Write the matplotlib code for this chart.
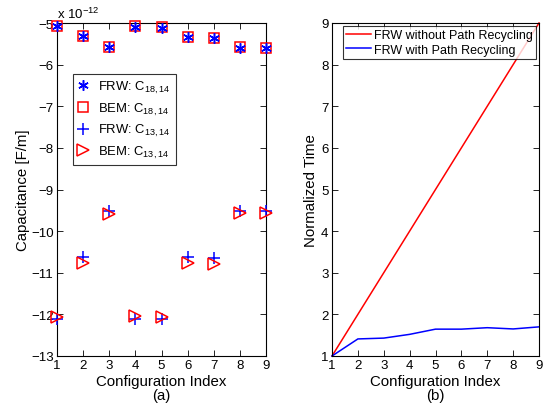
import matplotlib
matplotlib.use("Agg")
import matplotlib.pyplot as plt
import numpy as np

plt.rcParams['font.family'] = ['Liberation Sans', 'DejaVu Sans']
plt.rcParams['mathtext.default'] = 'regular'
plt.rcParams['font.size'] = 10

config = [1, 2, 3, 4, 5, 6, 7, 8, 9]
# capacitances in units of 1e-12 F/m
frw_c18 = [-5.07, -5.32, -5.58, -5.09, -5.11, -5.34, -5.37, -5.59, -5.61]
bem_c18 = [-5.07, -5.32, -5.57, -5.08, -5.10, -5.33, -5.36, -5.58, -5.60]
frw_c13 = [-12.11, -10.61, -9.52, -12.12, -12.12, -10.61, -10.64, -9.51, -9.51]
bem_c13 = [-12.06, -10.77, -9.58, -12.05, -12.06, -10.77, -10.78, -9.57, -9.57]

time_without = [1, 2, 3, 4, 5, 6, 7, 8, 9]
time_with = [1.0, 1.41, 1.43, 1.52, 1.645, 1.645, 1.68, 1.65, 1.70]

fig = plt.figure(figsize=(5.46, 4.10), dpi=100)
ax1 = fig.add_axes([57/546, 1-357/410, 209/546, 333/410])
ax2 = fig.add_axes([332/546, 1-357/410, 207/546, 333/410])

for ax in (ax1, ax2):
    ax.tick_params(direction='in', top=True, right=True, length=4, width=0.6, labelsize=9.5, pad=2.5)
    for s in ax.spines.values():
        s.set_linewidth(0.8)
    ax.set_xlim(1, 9)
    ax.set_xticks(config)

asterisk = (6, 2, 0)
ax1.plot(config, bem_c18, linestyle='none', marker='s', markersize=6.5, markerfacecolor='none',
         markeredgecolor='red', markeredgewidth=1.1, label='BEM: C$_{18,14}$', zorder=3, clip_on=False)
ax1.plot(config, frw_c18, linestyle='none', marker=asterisk, markersize=7.5, color='blue',
         markeredgewidth=1.1, label='FRW: C$_{18,14}$', zorder=4, clip_on=False)
ax1.plot(config, frw_c13, linestyle='none', marker='+', markersize=9, color='blue',
         markeredgewidth=1.1, label='FRW: C$_{13,14}$', zorder=3, clip_on=False)
ax1.plot(config, bem_c13, linestyle='none', marker='>', markersize=8.5, markerfacecolor='none',
         markeredgecolor='red', markeredgewidth=1.1, label='BEM: C$_{13,14}$', zorder=4, clip_on=False)
ax1.set_ylim(-13, -5)
ax1.set_yticks(np.arange(-13, -4, 1))
ax1.set_yticklabels(['\u2212%d' % abs(v) for v in range(-13, -4)])
ax1.set_ylabel('Capacitance [F/m]', labelpad=1, fontsize=10.8)
ax1.set_xlabel('Configuration Index\n(a)', labelpad=1.5, linespacing=1.05, fontsize=10.8)
ax1.text(0.0, 1.005, 'x 10$^{-12}$', transform=ax1.transAxes, ha='left', va='bottom', fontsize=9.5)

h, l = ax1.get_legend_handles_labels()
order = [1, 0, 2, 3]
leg1 = ax1.legend([h[i] for i in order], [l[i] for i in order], loc='upper left',
                  bbox_to_anchor=(16/209, 1-51/333), frameon=True, fancybox=False, edgecolor='black',
                  handlelength=0.8, handletextpad=0.7, borderpad=0.4, labelspacing=0.42,
                  borderaxespad=0, fontsize=9.4)
leg1.get_frame().set_linewidth(0.8)

ax2.plot(config, time_without, color='red', linewidth=1.1, label='FRW without Path Recycling', clip_on=False)
ax2.plot(config, time_with, color='blue', linewidth=1.1, label='FRW with Path Recycling', clip_on=False)
ax2.set_ylim(1, 9)
ax2.set_yticks(np.arange(1, 10, 1))
ax2.set_ylabel('Normalized Time', labelpad=2, fontsize=10.8)
ax2.set_xlabel('Configuration Index\n(b)', labelpad=1.5, linespacing=1.05, fontsize=10.8)
leg2 = ax2.legend(loc='upper left', bbox_to_anchor=(11/207, 1-3/333), frameon=True, fancybox=False,
                  edgecolor='black', handlelength=2.0, handletextpad=0.2, borderpad=0.25,
                  labelspacing=0.2, borderaxespad=0, fontsize=9.0)
leg2.get_frame().set_linewidth(0.8)

fig.savefig('out.png', dpi=100)
